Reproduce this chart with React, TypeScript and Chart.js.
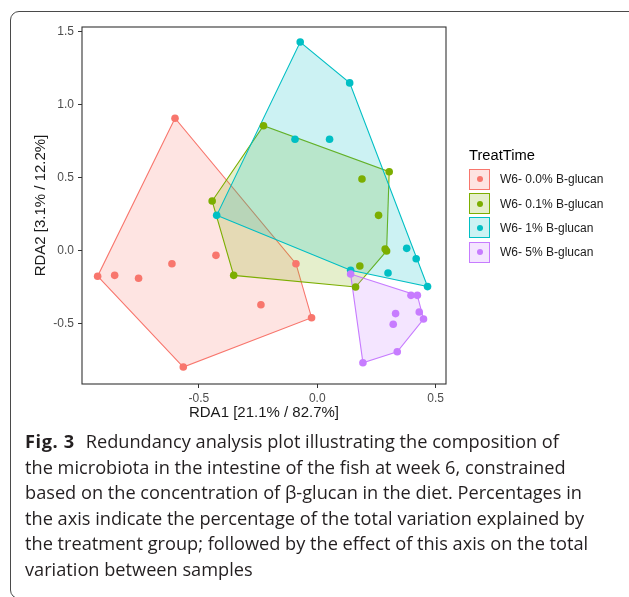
import React, { useEffect, useRef } from "react";
import { Chart, registerables } from "chart.js";
Chart.register(...registerables);

// ---- data ----
const groupLabels = ["W6- 0.0% B-glucan", "W6- 0.1% B-glucan", "W6- 1% B-glucan", "W6- 5% B-glucan"];
const groupColors = ["#F8766D", "#7CAE00", "#00BFC4", "#C77CFF"];
const groupFills = ["rgba(248,118,109,0.2)", "rgba(124,174,0,0.2)", "rgba(0,191,196,0.2)", "rgba(199,124,255,0.2)"];

const rda1_g00 = [-0.601, -0.928, -0.856, -0.755, -0.614, -0.428, -0.09, -0.238, -0.024, -0.566];
const rda2_g00 = [0.907, -0.175, -0.169, -0.189, -0.089, -0.032, -0.089, -0.37, -0.459, -0.797];

const rda1_g01 = [-0.227, -0.444, -0.353, 0.304, 0.189, 0.259, 0.293, 0.287, 0.18, 0.162];
const rda2_g01 = [0.856, 0.34, -0.169, 0.541, 0.491, 0.242, -0.002, 0.012, -0.105, -0.249];

const rda1_g1 = [-0.072, -0.094, 0.137, 0.052, -0.425, 0.378, 0.418, 0.299, 0.141, 0.466];
const rda2_g1 = [1.429, 0.763, 1.149, 0.763, 0.242, 0.016, -0.055, -0.153, -0.134, -0.246];

const rda1_g5 = [0.141, 0.396, 0.423, 0.431, 0.449, 0.331, 0.321, 0.338, 0.193];
const rda2_g5 = [-0.16, -0.306, -0.306, -0.42, -0.468, -0.431, -0.504, -0.692, -0.767];

const xTicks = [-0.5, 0, 0.5];
const yTicks = [-0.5, 0, 0.5, 1.0, 1.5];
const xLimits = [-0.994, 0.544];
const yLimits = [-0.913, 1.532];

const xTitle = "RDA1 [21.1% / 82.7%]";
const yTitle = "RDA2 [3.1% / 12.2%]";
const legendTitle = "TreatTime";

const captionLabel = "Fig. 3";
const captionLines = [
  "Redundancy analysis plot illustrating the composition of",
  "the microbiota in the intestine of the fish at week 6, constrained",
  "based on the concentration of \u03B2-glucan in the diet. Percentages in",
  "the axis indicate the percentage of the total variation explained by",
  "the treatment group; followed by the effect of this axis on the total",
  "variation between samples",
];

const seriesX = [rda1_g00, rda1_g01, rda1_g1, rda1_g5];
const seriesY = [rda2_g00, rda2_g01, rda2_g1, rda2_g5];

type P = { x: number; y: number };

function convexHull(points: P[]): P[] {
  const pts = points.slice().sort((a, b) => (a.x === b.x ? a.y - b.y : a.x - b.x));
  if (pts.length < 3) return pts;
  const cross = (o: P, a: P, b: P) => (a.x - o.x) * (b.y - o.y) - (a.y - o.y) * (b.x - o.x);
  const lower: P[] = [];
  for (const p of pts) {
    while (lower.length >= 2 && cross(lower[lower.length - 2], lower[lower.length - 1], p) <= 0) lower.pop();
    lower.push(p);
  }
  const upper: P[] = [];
  for (let i = pts.length - 1; i >= 0; i--) {
    const p = pts[i];
    while (upper.length >= 2 && cross(upper[upper.length - 2], upper[upper.length - 1], p) <= 0) upper.pop();
    upper.push(p);
  }
  upper.pop();
  lower.pop();
  return lower.concat(upper);
}

const hullPlugin = {
  id: "hulls",
  beforeDatasetsDraw(chart: any) {
    const { ctx, chartArea, scales } = chart;
    ctx.save();
    ctx.beginPath();
    ctx.rect(chartArea.left, chartArea.top, chartArea.right - chartArea.left, chartArea.bottom - chartArea.top);
    ctx.clip();
    chart.data.datasets.forEach((ds: any, i: number) => {
      const hull = convexHull(ds.data as P[]);
      ctx.beginPath();
      hull.forEach((p, k) => {
        const px = scales.x.getPixelForValue(p.x);
        const py = scales.y.getPixelForValue(p.y);
        if (k === 0) ctx.moveTo(px, py);
        else ctx.lineTo(px, py);
      });
      ctx.closePath();
      ctx.fillStyle = groupFills[i];
      ctx.fill();
      ctx.strokeStyle = groupColors[i];
      ctx.lineWidth = 1.1;
      ctx.stroke();
    });
    ctx.restore();
  },
  afterDraw(chart: any) {
    const { ctx, chartArea } = chart;
    ctx.save();
    ctx.strokeStyle = "#333333";
    ctx.lineWidth = 1.1;
    ctx.strokeRect(chartArea.left, chartArea.top, chartArea.right - chartArea.left, chartArea.bottom - chartArea.top);
    ctx.restore();
  },
};

function ScatterChart() {
  const ref = useRef<HTMLCanvasElement | null>(null);
  useEffect(() => {
    if (!ref.current) return;
    const datasets = groupLabels.map((label, i) => ({
      label,
      data: seriesX[i].map((x, k) => ({ x, y: seriesY[i][k] })),
      backgroundColor: groupColors[i],
      borderColor: groupColors[i],
      pointRadius: 3.8,
      pointBorderWidth: 0,
      order: groupLabels.length - 1 - i,
    }));
    const chart = new Chart(ref.current, {
      type: "scatter",
      data: { datasets },
      plugins: [hullPlugin],
      options: {
        animation: false,
        responsive: false,
        devicePixelRatio: 1,
        layout: { padding: { left: 20, right: 183, top: 27, bottom: 5 } },
        plugins: { legend: { display: false }, tooltip: { enabled: false } },
        scales: {
          x: {
            type: "linear",
            min: xLimits[0],
            max: xLimits[1],
            afterBuildTicks: (s: any) => {
              s.ticks = xTicks.map((v) => ({ value: v }));
            },
            afterFit: (s: any) => {
              s.height = 41;
            },
            ticks: {
              callback: (v: any) => Number(v).toFixed(1),
              color: "#4D4D4D",
              font: { family: "'Liberation Sans', Arial, sans-serif", size: 12 },
              padding: 3,
              maxRotation: 0,
            },
            grid: { drawOnChartArea: false, drawTicks: true, tickLength: 4, color: "#333333", lineWidth: 1 },
            border: { display: false },
            title: {
              display: true,
              text: xTitle,
              color: "#1a1a1a",
              font: { family: "'Liberation Sans', Arial, sans-serif", size: 15 },
              padding: { top: 0, bottom: 3 },
            },
          },
          y: {
            type: "linear",
            min: yLimits[0],
            max: yLimits[1],
            afterBuildTicks: (s: any) => {
              s.ticks = yTicks.map((v) => ({ value: v }));
            },
            afterFit: (s: any) => {
              s.width = 62;
            },
            ticks: {
              callback: (v: any) => Number(v).toFixed(1),
              color: "#4D4D4D",
              font: { family: "'Liberation Sans', Arial, sans-serif", size: 12 },
              padding: 4,
            },
            grid: { drawOnChartArea: false, drawTicks: true, tickLength: 4, color: "#333333", lineWidth: 1 },
            border: { display: false },
            title: {
              display: true,
              text: yTitle,
              color: "#1a1a1a",
              font: { family: "'Liberation Sans', Arial, sans-serif", size: 15 },
              padding: { top: 12, bottom: 0 },
            },
          },
        },
      },
    });
    return () => chart.destroy();
  }, []);
  return (
    <canvas
      ref={ref}
      width={629}
      height={430}
      style={{ position: "absolute", left: 0, top: 0, width: 629, height: 430 }}
    />
  );
}

function Legend() {
  return (
    <div style={{ position: "absolute", left: 469, top: 145, fontFamily: "'Liberation Sans', Arial, sans-serif" }}>
      <div style={{ fontSize: 14.7, color: "#000", height: 22, lineHeight: "20px" }}>{legendTitle}</div>
      {groupLabels.map((g, i) => (
        <div key={g} style={{ display: "flex", alignItems: "center", height: 24.4 }}>
          <div
            style={{
              width: 21,
              height: 21,
              boxSizing: "border-box",
              border: `1.2px solid ${groupColors[i]}`,
              background: groupFills[i],
              position: "relative",
            }}
          >
            <div
              style={{
                position: "absolute",
                left: "50%",
                top: "50%",
                width: 6,
                height: 6,
                marginLeft: -3,
                marginTop: -3,
                borderRadius: "50%",
                background: groupColors[i],
              }}
            />
          </div>
          <div style={{ marginLeft: 10, fontSize: 12, color: "#1a1a1a" }}>{g}</div>
        </div>
      ))}
    </div>
  );
}

export default function App() {
  return (
    <div
      style={{
        position: "absolute",
        left: 0,
        top: 0,
        width: 629,
        height: 597,
        overflow: "hidden",
        background: "#fff",
      }}
    >
      <div
        style={{
          position: "absolute",
          left: 10,
          top: 11,
          width: 630,
          height: 588,
          border: "1.4px solid #4a4a4a",
          borderRadius: 9,
          boxSizing: "border-box",
        }}
      />
      <ScatterChart />
      <Legend />
      <div
        style={{
          position: "absolute",
          left: 25,
          top: 429,
          fontFamily: "'Open Sans', sans-serif",
          fontSize: 18.2,
          lineHeight: "25.6px",
          color: "#231f20",
          whiteSpace: "nowrap",
        }}
      >
        {captionLines.map((line, i) => (
          <div key={i}>
            {i === 0 ? (
              <b style={{ fontWeight: 700, letterSpacing: 0.6, marginRight: 11 }}>{captionLabel}</b>
            ) : null}
            {line}
          </div>
        ))}
      </div>
    </div>
  );
}
